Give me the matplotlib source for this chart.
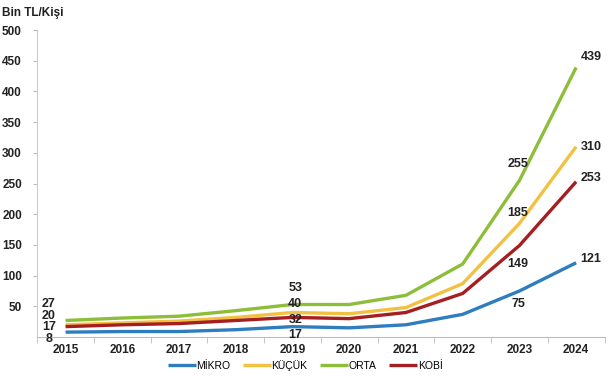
import numpy as np
import matplotlib
matplotlib.use("Agg")
import matplotlib.pyplot as plt

years = ["2015", "2016", "2017", "2018", "2019", "2020", "2021", "2022", "2023", "2024"]
mikro = [8, 9, 9, 12, 17, 15, 20, 37, 75, 121]
kucuk = [20, 23, 26, 32, 40, 38, 48, 87, 185, 310]
orta = [27, 31, 34, 43, 53, 53, 68, 119, 255, 439]
kobi = [17, 20, 22, 27, 32, 30, 40, 71, 149, 253]

names = ["MİKRO", "KÜÇÜK", "ORTA", "KOBİ"]
colors = ["#2E7DBE", "#F3C142", "#8DBE3A", "#A51E22"]

plt.rcParams['font.family'] = ['Liberation Sans', 'DejaVu Sans']

fig = plt.figure(figsize=(6.1, 3.8), dpi=100)
ax = fig.add_axes([0.061, 0.113, 0.93, 0.808])
x = np.arange(len(years))

series = [mikro, kucuk, orta, kobi]
for s, n, c in zip(series, names, colors):
    ax.plot(x, s, color=c, lw=2.4, label=n, solid_capstyle='butt')

ax.set_xlim(-0.5, 9.5)
ax.set_ylim(0, 500)
ax.set_yticks(np.arange(50, 501, 50))
ax.set_xticks(x)
ax.set_xticklabels(years, fontweight='bold', fontsize=8.5, color='#222222')
for lab in ax.get_yticklabels():
    lab.set_fontweight('bold')
ax.tick_params(axis='y', labelsize=8.5, colors='#bbbbbb', labelcolor='#222222', length=3, pad=8)
ax.tick_params(axis='x', length=0, pad=5)
ax.set_xticks(np.arange(-0.5, 10, 1), minor=True)
ax.tick_params(axis='x', which='minor', length=4, colors='#bbbbbb')

for side in ['top', 'right']:
    ax.spines[side].set_visible(False)
ax.spines['left'].set_color('#cccccc')
ax.spines['bottom'].set_color('#bbbbbb')

kw = dict(fontsize=9, fontweight='bold', color='#222222', clip_on=False)

# value labels: (series index, text offset in points)
def lab(i, s, dx, dy, ha='center'):
    ax.annotate(str(s[i]), (i, s[i]), xytext=(dx, dy), textcoords='offset points',
                ha=ha, va='center', **kw)

# 2015, stacked left of the line starts
lab(0, orta, -12, 12)
lab(0, kucuk, -12, 6)
lab(0, kobi, -12, -0.5)
lab(0, mikro, -12, -5)
# 2019
lab(4, orta, 2, 12)
lab(4, kucuk, 2, 6)
lab(4, kobi, 2, -2)
lab(4, mikro, 2, -6)
# 2023
lab(8, orta, -1, 12)
lab(8, kucuk, -1, 7.5)
lab(8, kobi, -1, -13)
lab(8, mikro, -1, -9.5)
# 2024
for s, dy in zip(series, [3, -0.5, 7.5, 3]):
    lab(9, s, 3, dy, ha='left')

fig.text(0.003, 0.965, "Bin TL/Kişi", fontsize=8.5, fontweight='bold', color='#222222', va='center')

leg = fig.legend(loc='lower center', bbox_to_anchor=(0.5, 0.0), ncol=4, frameon=False,
                 fontsize=7.5, handlelength=2.7, handletextpad=0.05, columnspacing=1.2)

fig.savefig("out.png", dpi=100)
